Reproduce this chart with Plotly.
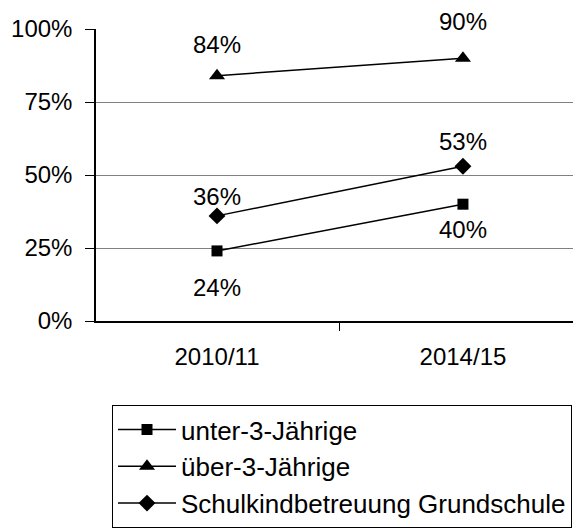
import plotly.graph_objects as go

categories = ["2010/11", "2014/15"]
series_names = ["unter-3-Jährige", "über-3-Jährige", "Schulkindbetreuung Grundschule"]
unter3 = [24, 40]
ueber3 = [84, 90]
schulkind = [36, 53]
y_ticks = [0, 25, 50, 75, 100]
y_tick_labels = ["0%", "25%", "50%", "75%", "100%"]

FONT = "Liberation Sans, Arial, sans-serif"
FS = 24
series = [
    (series_names[0], unter3, "square", 11, [-37, -25]),
    (series_names[1], ueber3, "triangle-up", 14, [31, 37]),
    (series_names[2], schulkind, "diamond", 13, [19, 25]),
]

fig = go.Figure()
for i, (name, vals, sym, size, shifts) in enumerate(series):
    fig.add_trace(go.Scatter(
        x=categories, y=vals, name=name, mode="lines+markers",
        line=dict(color="black", width=1.5),
        marker=dict(symbol=sym, size=size, color="black"),
        legendgroup=f"g{i}",
    ))
    for c, v, s in zip(categories, vals, shifts):
        fig.add_annotation(x=c, y=v, text=f"{v}%", showarrow=False,
                           yshift=s, font=dict(family=FONT, size=FS, color="black"))

# the page body has an 8px margin, so the figure is offset by 8px
fig.update_layout(
    width=573, height=521,
    margin=dict(l=88, r=0, t=21, b=208, autoexpand=False),
    paper_bgcolor="white", plot_bgcolor="white",
    font=dict(family=FONT, size=FS, color="black"),
    showlegend=True,
    legend=dict(
        x=0.033, y=-0.288, xanchor="left", yanchor="top",
        bordercolor="black", borderwidth=1, bgcolor="white",
        font=dict(family=FONT, size=26, color="black"),
        tracegroupgap=0, itemwidth=58,
    ),
)
fig.update_xaxes(
    type="category", range=[-0.492, 1.48],
    showgrid=False, showline=True, linecolor="black", linewidth=1.5,
    ticks="outside", tickson="boundaries", ticklen=8, tickcolor="black",
    ticklabelstandoff=13,
    tickfont=dict(family=FONT, size=FS),
)
fig.update_yaxes(
    range=[0, 100], tickvals=y_ticks, ticktext=y_tick_labels,
    showgrid=True, gridcolor="#808080", gridwidth=1,
    showline=True, linecolor="black", linewidth=1.5,
    ticks="outside", ticklen=9, tickcolor="black",
    ticklabelstandoff=8, zeroline=False,
    tickfont=dict(family=FONT, size=FS),
)
fig.write_html("out.html")
